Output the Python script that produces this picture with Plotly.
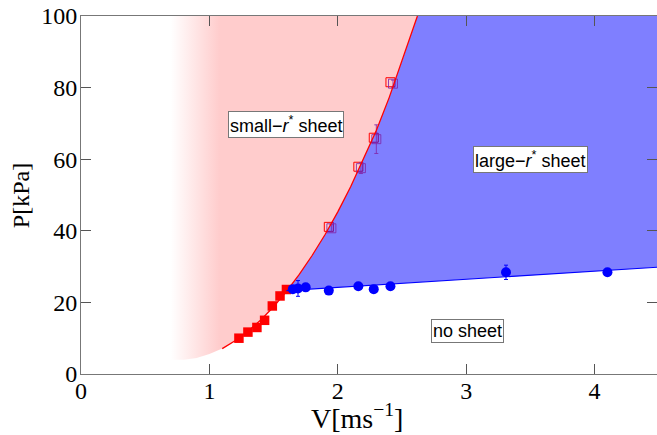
import plotly.graph_objects as go

# Boundary between the "small-r*" region and the sheet regions (V in m/s, P in kPa)
curve_V = [0.70, 0.80, 0.90, 1.00, 1.10, 1.20, 1.30, 1.40, 1.50, 1.60,
           1.70, 1.80, 1.90, 2.00, 2.10, 2.20, 2.30, 2.40, 2.50, 2.62]
curve_P = [4.0, 4.0, 4.5, 5.6, 7.1, 9.3, 11.9, 15.1, 18.8, 23.1,
           27.8, 33.1, 38.9, 45.3, 52.3, 60.0, 68.0, 77.2, 87.5, 100.0]

# Lower boundary of the large-r* sheet region
line_V = [1.60, 4.50]
line_P = [23.3, 29.85]

# Onset measurements (filled squares)
onset_V = [1.23, 1.30, 1.37, 1.43, 1.49, 1.55, 1.60]
onset_P = [10.0, 11.7, 13.0, 15.0, 19.0, 21.8, 23.6]

# Transition small -> large r* (open squares), two runs
trans_V = [1.93, 2.16, 2.28, 2.41]
trans_P = [41.1, 57.9, 66.0, 81.5]
trans2_V = [1.95, 2.18, 2.30, 2.43]
trans2_P = [40.7, 57.5, 65.6, 81.1]
trans2_err = [1.0, 1.5, 4.0, 1.0]

# Large-r* sheet threshold (circles)
large_V = [1.65, 1.69, 1.75, 1.93, 2.16, 2.28, 2.41, 3.31, 4.10]
large_P = [23.7, 23.9, 24.2, 23.3, 24.5, 23.7, 24.5, 28.4, 28.4]
large_err = [0.5, 2.2, 0.5, 0.5, 0.5, 0.5, 0.5, 2.0, 0.5]

x_ticks = [0, 1, 2, 3, 4]
y_ticks = [0, 20, 40, 60, 80, 100]
P_TOP = 100

fig = go.Figure()

# small-r* region: left of / above the boundary curve, fading in from the left
i_cross = curve_V.index(line_V[0])
fig.add_trace(go.Scatter(
    x=[curve_V[0]] + curve_V + [curve_V[0]],
    y=[P_TOP] + curve_P + [P_TOP],
    mode="lines", line=dict(width=0), fill="toself",
    fillgradient=dict(type="horizontal", start=0.70, stop=1.08,
                      colorscale=[[0, "rgba(255,255,255,1)"], [1, "#ffcccc"]]),
    hoverinfo="skip", showlegend=False))

fig.add_trace(go.Scatter(
    x=onset_V, y=onset_P, mode="markers",
    marker=dict(symbol="square", size=9.5, color="red"),
    showlegend=False))

fig.add_trace(go.Scatter(
    x=trans_V, y=trans_P, mode="markers",
    marker=dict(symbol="square-open", size=9, color="red", line=dict(width=1)),
    showlegend=False))

# large-r* region: between the threshold line and the boundary curve
blue_x = line_V + [line_V[-1], curve_V[-1]] + curve_V[i_cross:][::-1]
blue_y = line_P + [P_TOP, P_TOP] + curve_P[i_cross:][::-1]
fig.add_trace(go.Scatter(
    x=blue_x, y=blue_y, mode="lines", line=dict(width=0),
    fill="toself", fillcolor="rgba(0,0,255,0.5)",
    hoverinfo="skip", showlegend=False))

fig.add_trace(go.Scatter(
    x=trans2_V, y=trans2_P, mode="markers",
    marker=dict(symbol="square-open", size=9, color="rgba(128,40,170,0.85)",
                line=dict(width=1)),
    error_y=dict(type="data", array=trans2_err, color="rgba(128,40,170,0.85)",
                 thickness=1, width=2),
    showlegend=False))

fig.add_trace(go.Scatter(
    x=curve_V[4:], y=curve_P[4:], mode="lines",
    line=dict(color="red", width=1.3), showlegend=False))

fig.add_trace(go.Scatter(
    x=line_V, y=line_P, mode="lines",
    line=dict(color="blue", width=1.2), showlegend=False))

fig.add_trace(go.Scatter(
    x=large_V, y=large_P, mode="markers",
    marker=dict(symbol="circle", size=10, color="blue"),
    error_y=dict(type="data", array=large_err, color="blue", thickness=1, width=2),
    showlegend=False))

label_font = dict(family="Liberation Sans, Arial", size=18, color="black")
box = dict(bgcolor="white", bordercolor="#777777", borderwidth=1, borderpad=1,
           showarrow=False, font=label_font, xref="x", yref="y")
fig.add_annotation(x=1.60, y=69.8, text="small\u2212<i>r</i><sup>*</sup> sheet", **box)
fig.add_annotation(x=3.50, y=59.9, text="large\u2212<i>r</i><sup>*</sup> sheet", **box)
fig.add_annotation(x=3.01, y=11.9, text="no sheet", **box)

axis_font = dict(family="Liberation Serif, Times New Roman", size=24, color="black")
title_font = dict(family="Liberation Serif, Times New Roman", size=28, color="black")
fig.add_annotation(x=2.15, xref="x", y=-0.118, yref="paper", yanchor="middle",
                   xanchor="center",
                   text="V[ms<sup>\u22121</sup>]", showarrow=False, font=title_font)
fig.add_annotation(x=-0.104, xref="paper", y=0.497, yref="paper", textangle=-90,
                   xanchor="center", yanchor="middle",
                   text="P[kPa]", showarrow=False, font=axis_font)

axis_common = dict(showgrid=False, zeroline=False, showline=True, linecolor="#777777",
                   linewidth=1, mirror="ticks", ticks="inside", ticklen=10,
                   tickcolor="#555555", tickfont=axis_font)
fig.update_xaxes(range=[0, 4.486], tickvals=x_ticks, ticklabelstandoff=-5, **axis_common)
fig.update_yaxes(range=[0, 100], tickvals=y_ticks, ticklabelstandoff=-2, **axis_common)

fig.update_layout(width=657, height=435, margin=dict(l=81, r=0, t=16, b=61),
                  plot_bgcolor="white", paper_bgcolor="white", showlegend=False)

fig.write_html("out.html")
